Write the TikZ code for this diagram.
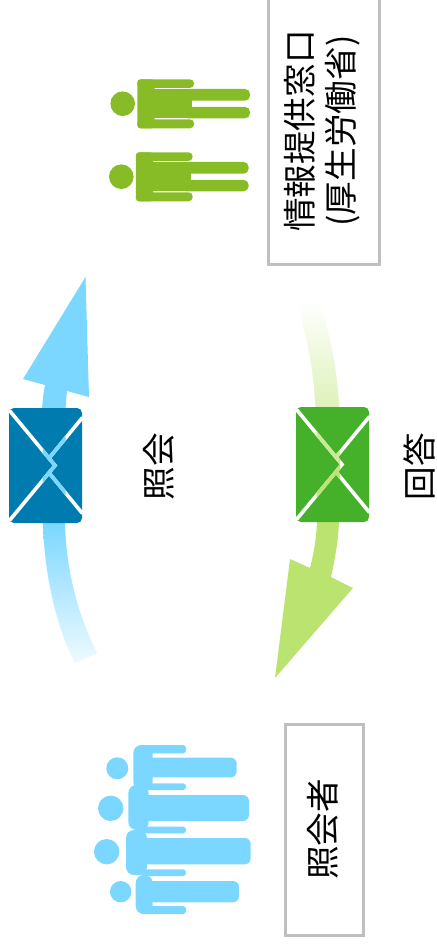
\documentclass[tikz,border=0pt]{standalone}
\usepackage{fontspec}
\setmainfont{Noto Sans CJK JP}
\definecolor{skyb}{HTML}{7BD7FF}
\definecolor{deepb}{HTML}{007BB0}
\definecolor{leaf}{HTML}{BBE36F}
\definecolor{deepg}{HTML}{45B02A}
\definecolor{person}{HTML}{88BC26}
\definecolor{boxg}{HTML}{BFBFBF}
\tikzset{
  labelbox/.style={draw=boxg,line width=3pt,fill=white,inner sep=0pt},
  vtext/.style={rotate=90,align=center,font=\fontsize{33.6pt}{41pt}\selectfont,inner sep=0pt},
  envline/.style={line width=3.6pt,line join=miter}
}
\newcommand{\envlines}[3]{% cx, cy, colour
  \draw[envline,#3] (#1-36,#2-55) -- (#1+9.5,#2) -- (#1-36,#2+55);
  \draw[envline,#3] (#1+37,#2-48) -- (#1+4.5,#2-8.5);
  \draw[envline,#3] (#1+37,#2+48) -- (#1+4.5,#2+8.5);
}
\newcommand{\envel}[3]{%
  \fill[#3,rounded corners=5pt] (#1-36.5,#2-57.5) rectangle (#1+36.5,#2+57.5);
  \envlines{#1}{#2}{white}
}
\newcommand{\figperson}[3]{% head cx, y centre, colour
  \fill[#3] (#1,#2) circle (12.3);
  \fill[#3,rounded corners=4pt] (#1+14.6,#2-24.4) rectangle (#1+71.3,#2-15.8);
  \fill[#3,rounded corners=4pt] (#1+14.6,#2+15.6) rectangle (#1+71.3,#2+24.6);
  \fill[#3,rounded corners=3pt] (#1+14.6,#2-24.4) rectangle (#1+32,#2+24.6);
  \fill[#3] (#1+28,#2-14.8) rectangle (#1+69.3,#2+14.6);
  \fill[#3,rounded corners=5pt] (#1+60,#2-14.8) rectangle (#1+127.3,#2-3);
  \fill[#3,rounded corners=5pt] (#1+60,#2+3.2) rectangle (#1+127.3,#2+14.6);
}
\newcommand{\crowd}[9]{% head x, head y, r, body left, body top, body bottom, inner x, block top, block bottom; block right from \blockr
  \fill[skyb] (#1,#2) circle (#3);
  \fill[skyb,rounded corners=8pt] (#4,#5) rectangle (#7+6,#6);
  \fill[skyb,rounded corners=6pt] (#7-6,#8) rectangle (\blockr,#9);
}
\begin{document}
\begin{tikzpicture}[x=1pt,y=-1pt]
\useasboundingbox (0,0) rectangle (436,944);
% blue arrow
\shade[top color=skyb,bottom color=skyb!12] (43,523) .. controls (44,570) and (55,625) .. (75,663) -- (97,653) .. controls (78,615) and (66,570) .. (65,523) -- cycle;
\fill[skyb] (43,524) -- (42,415) .. controls (42,405) and (43,395) .. (45,385) -- (23,379) -- (85.5,277) -- (89,397) -- (67,391) .. controls (66,400) and (65.5,408) .. (65.5,415) -- (65,524) -- cycle;
\envel{45.5}{465.5}{deepb}
\begin{scope}
  \clip (42.5,408) rectangle (65.5,523);
  \envlines{45.5}{465.5}{skyb}
\end{scope}
% green arrow
\shade[top color=white,bottom color=leaf] (298,306) .. controls (309,345) and (315,380) .. (316,420) -- (317,522) -- (339,522) -- (340,420) .. controls (338,375) and (332,340) .. (319,301) -- cycle;
\fill[leaf] (317,521) .. controls (316.5,537) and (314,552) .. (310,568) -- (290,559) -- (275,678) -- (353,588) -- (331,577) .. controls (336,555) and (338.5,537) .. (339,521) -- cycle;
\envel{332.5}{464.5}{deepg}
\begin{scope}
  \clip (316.5,407) rectangle (340,465);
  \envlines{332.5}{464.5}{leaf!75}
\end{scope}
\begin{scope}
  \clip (316.5,465) rectangle (340,522);
  \envlines{332.5}{464.5}{leaf!95}
\end{scope}
% green persons
\figperson{122.7}{103.7}{person}
\figperson{121.3}{176.7}{person}
% blue persons
\def\blockr{236.7}
\crowd{117.3}{768.3}{11}{133.3}{745}{790}{146.7}{757.7}{777.3}
\def\blockr{249}
\crowd{110.7}{808.3}{12.7}{128.3}{785}{830}{142.7}{795}{821}
\def\blockr{250.7}
\crowd{106.7}{851.7}{12.7}{126}{830}{875}{141}{838}{864.3}
\def\blockr{239}
\crowd{120.7}{891.7}{10.7}{135.7}{875}{914}{146.7}{881}{902.3}
\foreach \ya/\yb in {745/753.3,783.3/790,826.7/833.3,869.3/876,906/914}
  \fill[skyb,rounded corners=3pt] (140,\ya) rectangle (186,\yb);
% boxes
\node[labelbox,minimum width=111pt,minimum height=269pt] (src) at (323.5,130) {};
\node[vtext] (srct) at (322.5,131) {情報提供窓口\\(厚生労働省)};
\node[labelbox,minimum width=78pt,minimum height=211pt] (asker) at (324,829.5) {};
\node[vtext] (askert) at (323,829.5) {照会者};
\node[vtext] (q) at (159,466.5) {照会};
\node[vtext] (a) at (419,466.5) {回答};
\end{tikzpicture}
\end{document}
